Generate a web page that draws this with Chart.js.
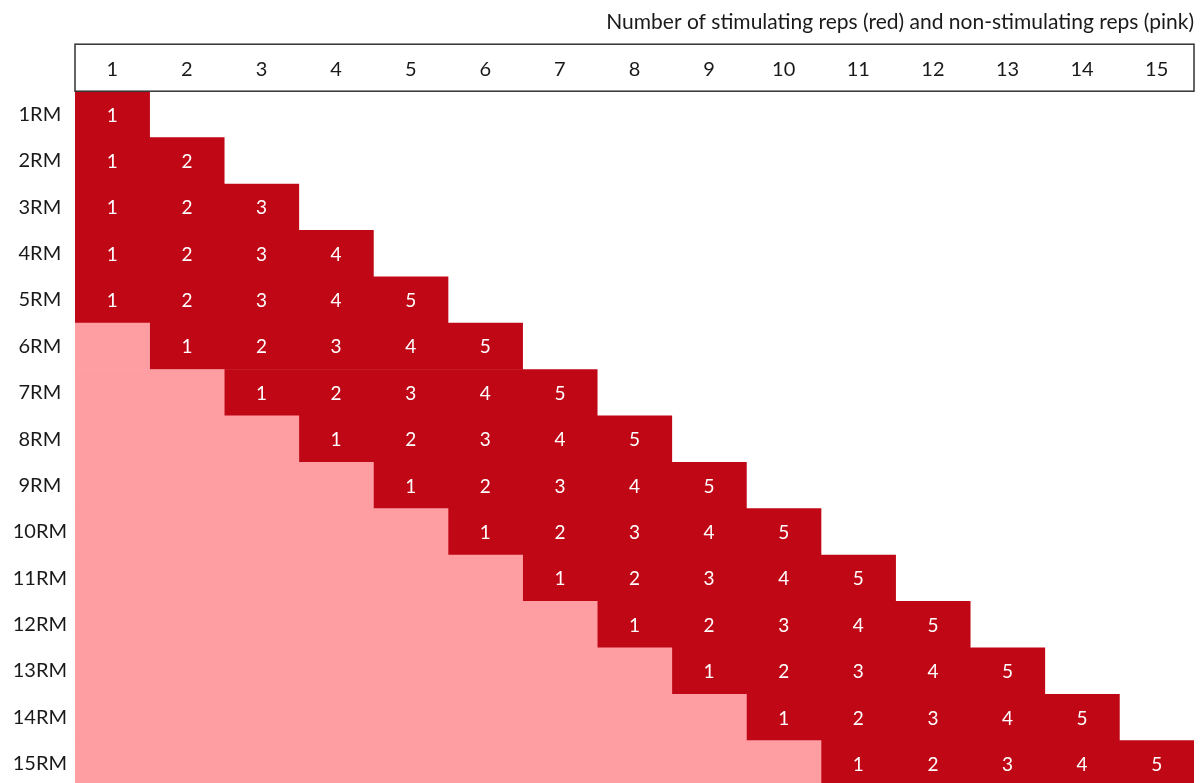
<!DOCTYPE html>
<html>
<head>
<meta charset="utf-8">
<script src="https://cdn.jsdelivr.net/npm/chart.js@4.4.1/dist/chart.umd.min.js"></script>
<style>
  html, body { margin: 0; padding: 0; background: #fff; overflow: hidden; }
  canvas { display: block; }
</style>
</head>
<body>
<canvas id="repsChart" width="1200" height="790"></canvas>
<script>
// Rows = rep max, columns = rep number within the set
const rows = ['1RM', '2RM', '3RM', '4RM', '5RM', '6RM', '7RM', '8RM', '9RM', '10RM',
              '11RM', '12RM', '13RM', '14RM', '15RM'];
const columns = ['1', '2', '3', '4', '5', '6', '7', '8', '9', '10', '11', '12', '13', '14', '15'];
// reps per set before the stimulating ones start (pink) and stimulating reps (red)
const nonStimulating = [0, 0, 0, 0, 0, 1, 2, 3, 4, 5, 6, 7, 8, 9, 10];
const stimulating    = [1, 2, 3, 4, 5, 5, 5, 5, 5, 5, 5, 5, 5, 5, 5];

const RED = '#C00716';
const PINK = '#FE9DA2';
const INK = '#1a1a1a';
const FONT = 'Lato';

// header box round the column numbers + white numbers in the red cells
const gridExtras = {
    id: 'gridExtras',
    afterDatasetsDraw(chart) {
        const { ctx, scales: { x, y } } = chart;
        ctx.save();
        ctx.fillStyle = '#fff';
        ctx.font = '19px ' + FONT;
        ctx.textAlign = 'center';
        ctx.textBaseline = 'middle';
        rows.forEach((r, i) => {
            for (let k = 0; k < stimulating[i]; k++) {
                const col = nonStimulating[i] + k;
                ctx.fillText(String(k + 1), x.getPixelForValue(col + 0.5), y.getPixelForValue(i) + 1);
            }
        });
        ctx.restore();
    },
    afterDraw(chart) {
        const { ctx, scales: { x } } = chart;
        ctx.save();
        ctx.strokeStyle = '#333';
        ctx.lineWidth = 1.5;
        ctx.strokeRect(x.left, x.top, x.right - x.left, x.bottom - x.top);
        ctx.restore();
    }
};

new Chart(document.getElementById('repsChart'), {
    type: 'bar',
    data: {
        labels: rows,
        datasets: [
            {
                label: 'Non-stimulating',
                data: nonStimulating.map(n => n > 0 ? [0, n] : null),
                backgroundColor: PINK,
                grouped: false,
                barPercentage: 1,
                categoryPercentage: 1,
                borderWidth: 0
            },
            {
                label: 'Stimulating',
                data: stimulating.map((s, i) => [nonStimulating[i], nonStimulating[i] + s]),
                backgroundColor: RED,
                grouped: false,
                barPercentage: 1,
                categoryPercentage: 1,
                borderWidth: 0
            }
        ]
    },
    options: {
        indexAxis: 'y',
        responsive: false,
        animation: false,
        layout: { padding: { left: 0, right: 6, top: 0, bottom: 3 } },
        plugins: {
            legend: { display: false },
            tooltip: { enabled: false },
            title: {
                display: true,
                text: 'Number of stimulating reps (red) and non-stimulating reps (pink)',
                align: 'end',
                color: INK,
                font: { family: FONT, size: 21, weight: 'normal' },
                padding: { top: 10, bottom: 9 }
            }
        },
        scales: {
            x: {
                type: 'linear',
                position: 'top',
                min: 0,
                max: columns.length,
                grid: { display: false, tickLength: 0 },
                border: { display: false },
                afterBuildTicks: (s) => { s.ticks = columns.map((c, i) => ({ value: i + 0.5 })); },
                afterFit: (s) => { s.height = 47; },
                ticks: {
                    color: INK,
                    font: { family: FONT, size: 20 },
                    padding: 10,
                    autoSkip: false,
                    maxRotation: 0,
                    callback: (v, i) => columns[i]
                }
            },
            y: {
                grid: { display: false },
                border: { display: false },
                afterFit: (s) => { s.width = 75; s.paddingTop = 0; s.paddingBottom = 0; },
                ticks: {
                    color: INK,
                    font: { family: FONT, size: 20 },
                    crossAlign: 'center',
                    padding: 0
                }
            }
        }
    },
    plugins: [gridExtras]
});
</script>
</body>
</html>
